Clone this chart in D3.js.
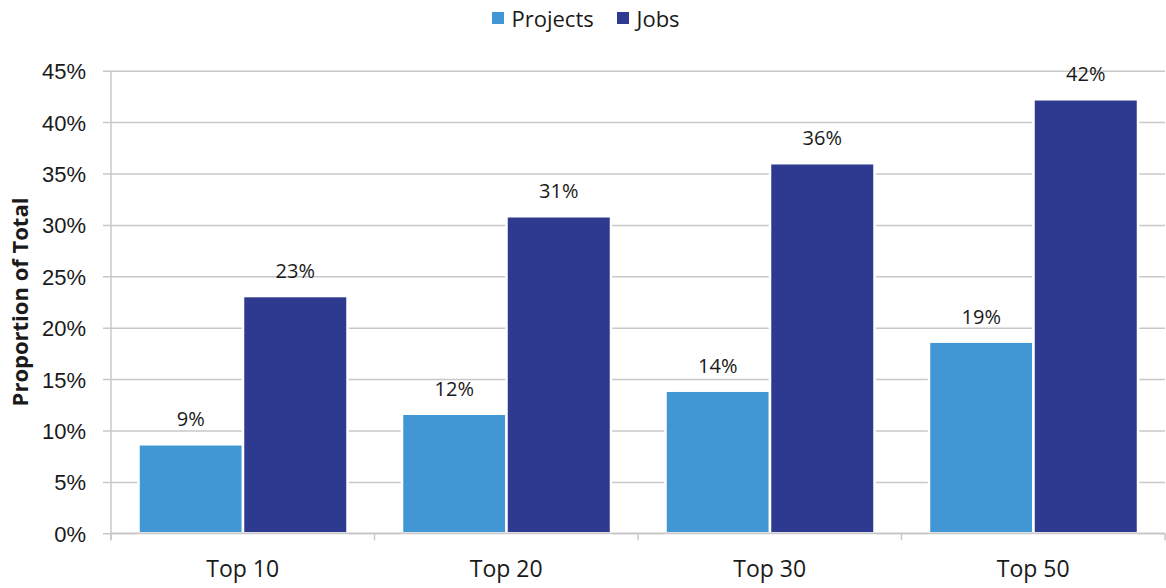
<!DOCTYPE html>
<html>
<head>
<meta charset="utf-8">
<script src="https://cdn.jsdelivr.net/npm/d3@7"></script>
<style>
  html, body { margin: 0; padding: 0; background: #fff; }
  svg { display: block; font-family: "Open Sans", "Noto Sans", sans-serif; }
</style>
</head>
<body>
<svg id="chart" width="1166" height="588"></svg>
<script>
// Share of total projects and jobs held by the top-ranked firms
const categories = ["Top 10", "Top 20", "Top 30", "Top 50"];
const seriesNames = ["Projects", "Jobs"];
const projects = [0.0866, 0.1163, 0.1387, 0.1864];
const jobs = [0.2308, 0.3084, 0.3600, 0.4222];
const yTicks = [0, 0.05, 0.10, 0.15, 0.20, 0.25, 0.30, 0.35, 0.40, 0.45];

const colors = { Projects: "#4197d4", Jobs: "#2e3990" };
const gridColor = "#c8c8c8";
const textColor = "#1a1a1a";

const svg = d3.select("#chart");
const plot = { left: 111, right: 1165, top: 70.7, bottom: 533.3 };

const x0 = d3.scaleBand().domain(categories).range([plot.left, plot.right]).padding(0);
const x1 = d3.scaleBand().domain(seriesNames).range([27.5, 236.5]).padding(0);
const y = d3.scaleLinear().domain([0, 0.45]).range([plot.bottom, plot.top]);

const rows = categories.map((c, i) => ({
  category: c,
  values: [
    { key: "Projects", value: projects[i] },
    { key: "Jobs", value: jobs[i] }
  ]
}));

// Horizontal gridlines, extended left of the axis as tick marks
const yAxis = d3.axisLeft(y)
  .tickValues(yTicks)
  .tickFormat(d3.format(".0%"))
  .tickSize(-(plot.right - plot.left))
  .tickPadding(0);

const yG = svg.append("g")
  .attr("transform", `translate(${plot.left},0)`)
  .call(yAxis);
yG.select(".domain").remove();
yG.selectAll(".tick line")
  .attr("x1", -8)
  .attr("stroke", gridColor)
  .attr("stroke-width", 1.5);
yG.selectAll(".tick text")
  .attr("x", -25)
  .attr("dy", "0.36em")
  .attr("fill", textColor)
  .style("font-size", "22px");

// Bars
const groups = svg.append("g").selectAll("g")
  .data(rows)
  .join("g")
  .attr("transform", d => `translate(${x0(d.category)},0)`);

groups.selectAll("rect")
  .data(d => d.values)
  .join("rect")
  .attr("x", d => x1(d.key))
  .attr("y", d => y(d.value))
  .attr("width", x1.bandwidth())
  .attr("height", d => y(0) - y(d.value))
  .attr("fill", d => colors[d.key])
  .attr("stroke", "#fff")
  .attr("stroke-width", 2.5);

// Value labels above each bar
groups.selectAll("text.value")
  .data(d => d.values)
  .join("text")
  .attr("class", "value")
  .attr("x", d => x1(d.key) + x1.bandwidth() / 2)
  .attr("y", d => y(d.value) - 18)
  .attr("text-anchor", "middle")
  .attr("fill", textColor)
  .style("font-size", "20px")
  .text(d => d3.format(".0%")(d.value));

// Vertical axis line
svg.append("line")
  .attr("x1", plot.left).attr("x2", plot.left)
  .attr("y1", plot.top).attr("y2", plot.bottom + 7)
  .attr("stroke", gridColor)
  .attr("stroke-width", 1.5);

// Category axis with ticks at band boundaries
const xG = svg.append("g")
  .attr("transform", `translate(0,${plot.bottom})`);
xG.append("line")
  .attr("x1", plot.left).attr("x2", plot.right)
  .attr("stroke", gridColor)
  .attr("stroke-width", 1.5);
const boundaries = categories.map(c => x0(c)).concat([x0(categories[categories.length - 1]) + x0.bandwidth()]);
xG.selectAll("line.tick")
  .data(boundaries)
  .join("line")
  .attr("class", "tick")
  .attr("x1", d => d).attr("x2", d => d)
  .attr("y1", 0).attr("y2", 7)
  .attr("stroke", gridColor)
  .attr("stroke-width", 1.5);
xG.selectAll("text")
  .data(categories)
  .join("text")
  .attr("x", d => x0(d) + x0.bandwidth() / 2)
  .attr("y", 43.4)
  .attr("text-anchor", "middle")
  .attr("fill", textColor)
  .style("font-size", "23px")
  .text(d => d);

// Y-axis title
svg.append("text")
  .attr("transform", "translate(28,302) rotate(-90)")
  .attr("text-anchor", "middle")
  .attr("fill", textColor)
  .style("font-size", "22px")
  .style("font-weight", "bold")
  .text("Proportion of Total");

// Legend
const legend = svg.append("g").attr("transform", "translate(492,0)");
const legendItems = [
  { key: "Projects", x: 0 },
  { key: "Jobs", x: 125 }
];
legendItems.forEach(item => {
  legend.append("rect")
    .attr("x", item.x).attr("y", 12)
    .attr("width", 12).attr("height", 12)
    .attr("fill", colors[item.key]);
  legend.append("text")
    .attr("x", item.x + 19.5).attr("y", 26.7)
    .attr("fill", textColor)
    .style("font-size", "22px")
    .text(item.key);
});
</script>
</body>
</html>
